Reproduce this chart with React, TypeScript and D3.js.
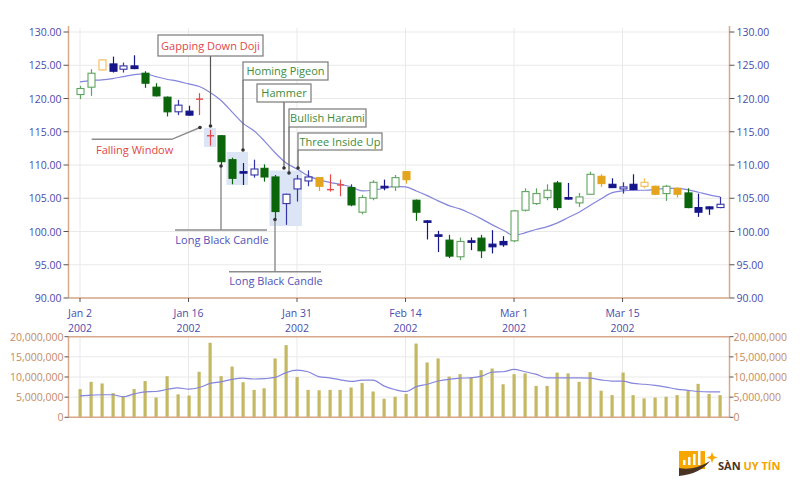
import React from "react";
import * as d3 from "d3";

// ---------- DATA ----------
const tickIndexes = [0, 10, 20, 30, 40, 50];
const tickDates = ["Jan 2", "Jan 16", "Jan 31", "Feb 14", "Mar 1", "Mar 15"];
const tickYears = ["2002", "2002", "2002", "2002", "2002", "2002"];

const opens = [
  120.6, 121.7, 124.3, 125.2, 124.4, 124.9, 123.8, 121.7, 120.2, 118.0,
  118.1, 119.9, 114.4, 114.4, 110.8, 109.0, 108.5, 109.5, 108.2, 104.2,
  106.4, 107.6, 108.1, 106.3, 107.0, 106.6, 102.9, 105.0, 106.8, 106.7,
  109.0, 104.7, 101.6, 99.5, 98.7, 96.2, 98.6, 99.0, 98.1, 98.5,
  98.6, 103.2, 104.2, 105.1, 107.3, 105.1, 104.3, 105.6, 108.3, 107.1,
  106.4, 107.1, 106.8, 106.8, 105.7, 106.5, 105.8, 103.6, 103.7, 103.6,
];
const highs = [
  121.9, 124.4, 125.9, 126.3, 125.4, 126.5, 124.1, 122.3, 120.3, 119.8,
  118.9, 120.8, 115.3, 114.5, 111.1, 110.3, 110.8, 110.1, 108.5, 105.7,
  108.5, 109.2, 108.2, 108.6, 107.8, 107.1, 105.5, 107.7, 107.8, 108.5,
  109.0, 104.8, 101.7, 100.1, 99.5, 99.1, 99.1, 99.5, 100.2, 99.3,
  103.2, 106.5, 106.5, 107.1, 107.6, 107.3, 105.8, 109.0, 108.6, 108.0,
  107.4, 108.6, 108.0, 106.9, 107.0, 106.6, 106.5, 105.7, 103.8, 105.2,
];
const lows = [
  119.9, 120.4, 124.2, 123.9, 123.9, 124.4, 121.6, 120.3, 117.3, 117.5,
  117.4, 117.5, 112.9, 109.7, 107.1, 107.0, 108.1, 107.5, 102.0, 101.0,
  104.5, 106.8, 106.1, 106.0, 105.3, 103.8, 102.6, 104.7, 106.2, 106.1,
  107.2, 101.6, 98.8, 96.9, 96.0, 95.7, 97.2, 96.0, 96.7, 97.7,
  98.4, 103.0, 104.0, 104.7, 103.2, 104.8, 103.7, 105.6, 106.7, 106.6,
  105.7, 106.2, 106.5, 105.5, 104.6, 105.1, 103.5, 102.2, 102.5, 103.5,
];
const closes = [
  121.5, 123.8, 125.8, 124.1, 124.9, 124.5, 122.3, 120.4, 118.0, 119.0,
  117.5, 119.9, 114.4, 110.5, 108.0, 108.8, 109.4, 108.2, 103.0, 105.6,
  107.9, 108.2, 106.8, 106.3, 107.0, 104.0, 105.1, 107.4, 106.6, 108.1,
  107.8, 102.9, 101.4, 99.3, 96.3, 98.5, 98.4, 97.1, 97.7, 98.0,
  103.1, 106.0, 105.7, 106.2, 103.6, 104.9, 105.2, 108.6, 107.2, 106.6,
  106.7, 106.3, 107.4, 105.6, 106.8, 105.6, 103.6, 102.9, 103.4, 104.1,
];
const candleKinds = [
  "up", "up", "goldUp", "smallDown", "smallUp", "smallDown", "down", "down", "down", "smallUp",
  "smallDown", "doji", "doji", "down", "down", "smallDown", "smallUp", "down", "down", "smallUp",
  "smallUp", "smallUp", "goldDown", "doji", "doji", "down", "up", "up", "smallDown", "up",
  "goldDown", "down", "smallDown", "smallDown", "down", "up", "smallDown", "down", "smallDown", "smallDown",
  "up", "up", "up", "up", "down", "smallDown", "up", "up", "goldDown", "smallDown",
  "smallUp", "smallDown", "goldUp", "goldDown", "up", "goldDown", "down", "smallDown", "smallDown", "smallUp",
];
const priceAverage = [
  122.5, 122.7, 122.8, 123.0, 123.3, 123.6, 123.7, 123.3, 122.9, 122.6,
  122.2, 121.8, 120.9, 119.7, 118.0, 116.3, 115.2, 113.6, 111.8, 110.3,
  109.4, 108.4, 107.8, 107.4, 107.1, 106.7, 106.1, 106.2, 106.5, 106.8,
  106.7, 106.1, 105.4, 104.6, 103.9, 103.4, 102.7, 101.9, 101.0, 100.2,
  99.4, 99.8, 100.3, 100.7, 101.3, 102.1, 102.9, 103.9, 104.9, 105.8,
  106.1, 106.2, 106.2, 106.3, 106.5, 106.5, 106.3, 105.9, 105.5, 105.2,
];
const volumes = [
  7.0, 8.8, 8.4, 6.0, 5.3, 7.0, 9.0, 4.9, 10.2, 5.7,
  5.4, 11.3, 18.5, 10.2, 12.6, 8.7, 6.8, 7.2, 14.6, 17.9,
  10.0, 6.8, 6.7, 6.8, 6.8, 7.4, 8.5, 6.4, 4.6, 5.1,
  5.8, 18.3, 13.6, 14.6, 10.1, 10.7, 9.9, 11.7, 12.1, 8.2,
  10.7, 10.9, 7.8, 7.8, 11.1, 10.9, 8.8, 11.2, 6.6, 5.5,
  11.1, 5.5, 4.7, 4.9, 5.1, 5.5, 6.5, 8.3, 5.8, 5.5,
].map((v) => v * 1e6);
const volumeAverage = [
  5.3, 5.5, 5.6, 5.6, 5.1, 5.8, 6.3, 6.4, 6.9, 7.3,
  7.0, 7.4, 8.4, 8.8, 9.4, 9.7, 9.5, 9.6, 9.9, 11.1,
  11.7, 11.3, 10.1, 9.8, 9.3, 8.9, 9.2, 9.2, 7.8, 6.9,
  6.4, 7.6, 8.2, 9.0, 9.4, 9.7, 9.8, 10.2, 11.2, 11.3,
  11.9, 11.3, 10.7, 9.8, 9.8, 9.8, 9.8, 9.7, 9.3, 9.0,
  9.0, 8.4, 8.2, 7.9, 7.5, 7.0, 6.7, 6.4, 6.3, 6.3,
].map((v) => v * 1e6);

// ---------- LAYOUT / STYLE ----------
const W = 800;
const H = 500;
const LEFT = 68.5;
const RIGHT = 729.5;
const P_TOP = 32;
const P_BOT = 298;
const V_TOP = 336.7;
const V_BOT = 417.3;
const FONT = "'Open Sans', 'Noto Sans', sans-serif";
const AXIS_COLOR = "#d9a98a";
const PRICE_TEXT = "#4b4bab";
const VOL_TEXT = "#c58a63";
const GRID = "#e9e9e9";
const MA_COLOR = "#8585dc";
const ANN_LINE = "#8c8c8c";

const kindStyle: Record<string, { stroke: string; fill: string }> = {
  up: { stroke: "#5fa55f", fill: "#ffffff" },
  down: { stroke: "#0b650b", fill: "#0b650b" },
  smallUp: { stroke: "#3535a8", fill: "#ffffff" },
  smallDown: { stroke: "#16168a", fill: "#16168a" },
  doji: { stroke: "#e54848", fill: "none" },
  goldUp: { stroke: "#f2bb55", fill: "#ffffff" },
  goldDown: { stroke: "#e4a51e", fill: "#e4a51e" },
};

export default function App() {
  const n = opens.length;
  const x = d3.scaleLinear().domain([0, n - 1]).range([80, 720.2]);
  const yP = d3.scaleLinear().domain([90, 130]).range([P_BOT, P_TOP]);
  const yV = d3.scaleLinear().domain([0, 20e6]).range([V_BOT, V_TOP]);
  const priceTicks = yP.ticks(8);
  const volTicks = yV.ticks(4);
  const fmtP = d3.format(".2f");
  const fmtV = d3.format(",");

  const maLine = d3
    .line<number>()
    .x((_, i) => x(i))
    .y((d) => yP(d))
    .curve(d3.curveMonotoneX);
  const vmaLine = d3
    .line<number>()
    .x((_, i) => x(i))
    .y((d) => yV(d))
    .curve(d3.curveMonotoneX);

  const bw = 7;

  const labelBox = (
    bx: number,
    by: number,
    bwid: number,
    bh: number,
    text: string,
    color: string,
    lx: number,
    ly2: number,
    key: string
  ) => (
    <g key={key}>
      <line x1={lx} x2={lx} y1={by + bh} y2={ly2} stroke="#555" strokeWidth={1.2} />
      <circle cx={lx} cy={ly2} r={1.8} fill="#333" />
      <rect x={bx} y={by} width={bwid} height={bh} fill="#fff" stroke="#7a7a7a" strokeWidth={1.2} />
      <text x={bx + bwid / 2} y={by + bh / 2 + 4} textAnchor="middle" fontSize={11} fill={color} fontFamily={FONT}>
        {text}
      </text>
    </g>
  );

  return (
    <svg width={W} height={H} style={{ position: "absolute", left: 0, top: 0, background: "#fff" }}>
      <rect x={0} y={0} width={W} height={H} fill="#fff" />
      {/* ---------- Price grid ---------- */}
      {priceTicks.map((t) => (
        <line key={"pg" + t} x1={LEFT} x2={RIGHT} y1={yP(t)} y2={yP(t)} stroke={GRID} strokeWidth={1} />
      ))}
      {tickIndexes.map((t) => (
        <line key={"pvg" + t} x1={x(t)} x2={x(t)} y1={P_TOP - 4} y2={P_BOT} stroke={GRID} strokeWidth={1} />
      ))}
      {/* ---------- Volume grid ---------- */}
      {volTicks.map((t) => (
        <line key={"vg" + t} x1={LEFT} x2={RIGHT} y1={yV(t)} y2={yV(t)} stroke={GRID} strokeWidth={1} />
      ))}
      {tickIndexes.map((t) => (
        <line key={"vvg" + t} x1={x(t)} x2={x(t)} y1={V_TOP} y2={V_BOT} stroke={GRID} strokeWidth={1} />
      ))}

      {/* ---------- Highlight regions ---------- */}
      <rect x={204} y={128} width={12} height={19} fill="#dbe5f5" />
      <rect x={226.5} y={152} width={21.5} height={33} fill="#dbe5f5" />
      <rect x={269.5} y={170.5} width={32.5} height={55.5} fill="#dbe5f5" />

      {/* ---------- Price moving average ---------- */}
      <path d={maLine(priceAverage) || ""} fill="none" stroke={MA_COLOR} strokeWidth={1.2} />

      {/* ---------- Candles ---------- */}
      {opens.map((o, i) => {
        const c = closes[i];
        const st = kindStyle[candleKinds[i]];
        const cx = Math.round(x(i)) + 0.5;
        const top = yP(Math.max(o, c));
        const bot = yP(Math.min(o, c));
        return (
          <g key={"c" + i}>
            <line x1={cx} x2={cx} y1={yP(highs[i])} y2={yP(lows[i])} stroke={st.stroke} strokeWidth={1.2} />
            {candleKinds[i] === "doji" ? (
              <line x1={cx - bw / 2} x2={cx + bw / 2} y1={yP(o)} y2={yP(o)} stroke={st.stroke} strokeWidth={1.4} />
            ) : (
              <rect
                x={cx - bw / 2}
                y={top}
                width={bw}
                height={Math.max(1.5, bot - top)}
                fill={st.fill}
                stroke={st.stroke}
                strokeWidth={1.1}
              />
            )}
          </g>
        );
      })}

      {/* ---------- Volume bars ---------- */}
      {volumes.map((v, i) => (
        <rect
          key={"v" + i}
          x={Math.round(x(i)) - 1.5}
          y={yV(v)}
          width={3.2}
          height={V_BOT - yV(v)}
          fill="#c4b862"
        />
      ))}
      <path d={vmaLine(volumeAverage) || ""} fill="none" stroke={MA_COLOR} strokeWidth={1.2} />

      {/* ---------- Axes (price) ---------- */}
      <line x1={LEFT} x2={LEFT} y1={P_TOP - 6} y2={P_BOT} stroke={AXIS_COLOR} strokeWidth={1.5} />
      <line x1={RIGHT} x2={RIGHT} y1={P_TOP - 6} y2={P_BOT} stroke={AXIS_COLOR} strokeWidth={1.5} />
      <line x1={LEFT} x2={RIGHT} y1={P_BOT} y2={P_BOT} stroke={AXIS_COLOR} strokeWidth={1.5} />
      {priceTicks.map((t) => (
        <g key={"pt" + t}>
          <line x1={LEFT - 5} x2={LEFT} y1={yP(t)} y2={yP(t)} stroke="#555" strokeWidth={1} />
          <line x1={RIGHT} x2={RIGHT + 5} y1={yP(t)} y2={yP(t)} stroke="#555" strokeWidth={1} />
          <text x={LEFT - 7} y={yP(t) + 4} textAnchor="end" fontSize={10.5} fill={PRICE_TEXT} fontFamily={FONT}>
            {fmtP(t)}
          </text>
          <text x={RIGHT + 7} y={yP(t) + 4} textAnchor="start" fontSize={10.5} fill={PRICE_TEXT} fontFamily={FONT}>
            {fmtP(t)}
          </text>
        </g>
      ))}
      {tickIndexes.map((t, k) => (
        <g key={"xt" + t}>
          <line x1={x(t)} x2={x(t)} y1={P_BOT} y2={P_BOT + 4} stroke="#555" strokeWidth={1} />
          <text x={x(t)} y={317} textAnchor="middle" fontSize={10.5} fill={PRICE_TEXT} fontFamily={FONT}>
            {tickDates[k]}
          </text>
          <text x={x(t)} y={332} textAnchor="middle" fontSize={10.5} fill={PRICE_TEXT} fontFamily={FONT}>
            {tickYears[k]}
          </text>
        </g>
      ))}

      {/* ---------- Axes (volume) ---------- */}
      <line x1={LEFT} x2={RIGHT} y1={V_TOP} y2={V_TOP} stroke={AXIS_COLOR} strokeWidth={1.5} />
      <line x1={LEFT} x2={RIGHT} y1={V_BOT} y2={V_BOT} stroke={AXIS_COLOR} strokeWidth={1.5} />
      <line x1={LEFT} x2={LEFT} y1={V_TOP} y2={V_BOT} stroke={AXIS_COLOR} strokeWidth={1.5} />
      <line x1={RIGHT} x2={RIGHT} y1={V_TOP} y2={V_BOT} stroke={AXIS_COLOR} strokeWidth={1.5} />
      {volTicks.map((t) => (
        <g key={"vt" + t}>
          <line x1={LEFT - 4} x2={LEFT} y1={yV(t)} y2={yV(t)} stroke="#555" strokeWidth={1} />
          <line x1={RIGHT} x2={RIGHT + 4} y1={yV(t)} y2={yV(t)} stroke="#555" strokeWidth={1} />
          <text x={LEFT - 5} y={yV(t) + 4} textAnchor="end" fontSize={10.5} fill={VOL_TEXT} fontFamily={FONT}>
            {fmtV(t)}
          </text>
          <text x={RIGHT + 4} y={yV(t) + 4} textAnchor="start" fontSize={10.5} fill={VOL_TEXT} fontFamily={FONT}>
            {fmtV(t)}
          </text>
        </g>
      ))}

      {/* ---------- Annotations ---------- */}
      {/* Falling Window */}
      <polyline points="91.7,139.3 171.7,139.3 200,127.5" fill="none" stroke={ANN_LINE} strokeWidth={1.4} />
      <circle cx={200} cy={127.5} r={1.8} fill="#333" />
      <text x={96} y={154} fontSize={11} fill="#e04848" fontFamily={FONT}>
        Falling Window
      </text>
      {/* Long Black Candle 1 */}
      <line x1={175} x2={267} y1={230} y2={230} stroke={ANN_LINE} strokeWidth={1.6} />
      <line x1={221} x2={221} y1={230} y2={166} stroke="#8a8a8a" strokeWidth={1.4} />
      <circle cx={221} cy={166} r={1.8} fill="#333" />
      <text x={222} y={243.5} textAnchor="middle" fontSize={11} fill="#5252b8" fontFamily={FONT}>
        Long Black Candle
      </text>
      {/* Long Black Candle 2 */}
      <line x1={229} x2={321} y1={271.7} y2={271.7} stroke={ANN_LINE} strokeWidth={1.6} />
      <line x1={275} x2={275} y1={271.7} y2={219.5} stroke="#8a8a8a" strokeWidth={1.4} />
      <circle cx={275} cy={219.5} r={1.8} fill="#333" />
      <text x={276} y={285} textAnchor="middle" fontSize={11} fill="#5252b8" fontFamily={FONT}>
        Long Black Candle
      </text>
      {labelBox(158, 35, 105, 21, "Gapping Down Doji", "#e04848", 210.5, 126, "gdd")}
      {labelBox(243, 62, 85, 18, "Homing Pigeon", "#3c8c3c", 243, 150, "hp")}
      {labelBox(257, 84, 54, 18, "Hammer", "#3c8c3c", 284, 168, "hm")}
      {labelBox(289, 109, 77, 18, "Bullish Harami", "#3c8c3c", 289, 173, "bh")}
      {labelBox(298, 133, 84, 17, "Three Inside Up", "#3c8c3c", 298, 168, "tiu")}

      {/* ---------- Logo ---------- */}
      <g>
        <rect x={679} y={451} width={26} height={18} fill="#f7a700" />
        {[0, 1, 2, 3].map((k) => (
          <rect key={"lb" + k} x={683 + k * 5} y={465 - (5 + k * 3)} width={2.5} height={5 + k * 3} fill="#fff" />
        ))}
        <path d="M679,476 L679,468 Q694,471 710,461 Q700,474 679,476 Z" fill="#4a3323" />
        <path d="M712,452 L713.5,456 L717.5,457.5 L713.5,459 L712,463 L710.5,459 L706.5,457.5 L710.5,456 Z" fill="#f7a700" />
        <text x={718} y={470} fontSize={11} fontWeight="bold" fontFamily={FONT} fill="#4a3323">
          SÀN <tspan fill="#f5a300">UY TÍN</tspan>
        </text>
      </g>
    </svg>
  );
}
